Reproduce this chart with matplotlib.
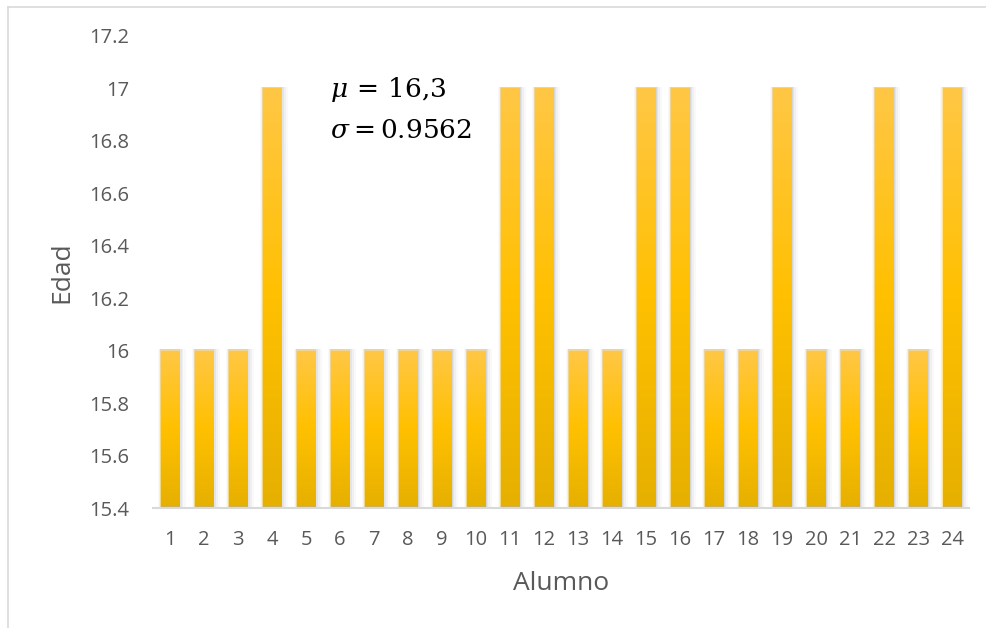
import numpy as np
import matplotlib
matplotlib.use("Agg")
import matplotlib.pyplot as plt
from matplotlib.colors import LinearSegmentedColormap
from matplotlib.patches import Rectangle
from matplotlib.lines import Line2D

alumnos = [str(i) for i in range(1, 25)]
edades = [16, 16, 16, 17, 16, 16, 16, 16, 16, 16, 17, 17,
          16, 16, 17, 17, 16, 16, 17, 16, 16, 17, 16, 17]
y_ticks = [15.4, 15.6, 15.8, 16, 16.2, 16.4, 16.6, 16.8, 17, 17.2]
y_tick_labels = ["15.4", "15.6", "15.8", "16", "16.2", "16.4", "16.6", "16.8", "17", "17.2"]
mu_text = r"$\mu\,=\,16{,}3$"
sigma_text = r"$\sigma = 0.9562$"

plt.rcParams['font.family'] = ['Open Sans', 'DejaVu Sans']
plt.rcParams['mathtext.fontset'] = 'dejavuserif'

fig = plt.figure(figsize=(9.87, 6.28), dpi=100)
ax = fig.add_axes([0.155, 0.191, 0.827, 0.752])

# chart border (left and top)
fig.add_artist(Line2D([8/987, 8/987], [0, 1 - 7/628], transform=fig.transFigure,
                      color='#D9D9D9', lw=1.2))
fig.add_artist(Line2D([8/987, 1], [1 - 7/628, 1 - 7/628], transform=fig.transFigure,
                      color='#D9D9D9', lw=1.2))

x = np.arange(len(alumnos))
ymin, ymax = 15.4, 17.2
width = 0.53

cmap = LinearSegmentedColormap.from_list(
    'gold', [(0.0, '#E6B000'), (0.5, '#FFC000'), (1.0, '#FFC746')])
grad = np.linspace(0, 1, 256).reshape(-1, 1)

# soft shadows
for xi, v in zip(x, edades):
    for dx, a in [(0.16, 0.04), (0.11, 0.06), (0.07, 0.09), (0.035, 0.12)]:
        ax.add_patch(Rectangle((xi - width/2 - dx*0.6, ymin), width + dx*1.8, v - ymin + 0.006,
                               facecolor='#707070', edgecolor='none', alpha=a, zorder=1))

bars = ax.bar(x, [v - ymin for v in edades], bottom=ymin, width=width,
              color='#FFC000', edgecolor='none', zorder=2)
for b, xi, v in zip(bars, x, edades):
    im = ax.imshow(grad, cmap=cmap, aspect='auto', origin='lower',
                   extent=[xi - width/2, xi + width/2, ymin, v], zorder=3)
    im.set_clip_path(b)

ax.set_xlim(-0.5, len(alumnos) - 0.5)
ax.set_ylim(ymin, ymax)
ax.set_xticks(x)
ax.set_xticklabels(alumnos)
ax.set_yticks(y_ticks)
ax.set_yticklabels(y_tick_labels)
ax.tick_params(axis='both', length=0, labelsize=14.5, colors='#595959')
ax.tick_params(axis='x', pad=16)
ax.tick_params(axis='y', pad=17)
for s in ['top', 'right', 'left']:
    ax.spines[s].set_visible(False)
ax.spines['bottom'].set_color('#D9D9D9')
ax.spines['bottom'].set_linewidth(1.5)
ax.spines['bottom'].set_zorder(4)

ax.set_xlabel('Alumno', fontsize=19, color='#595959', labelpad=15)
ax.set_ylabel('Edad', fontsize=19, color='#595959', labelpad=11)

ax.text(4.70, 16.995, mu_text, fontsize=19, color='black', va='center', ha='left')
ax.text(4.70, 16.835, sigma_text, fontsize=19, color='black', va='center', ha='left')

fig.savefig('out.png', dpi=100)
